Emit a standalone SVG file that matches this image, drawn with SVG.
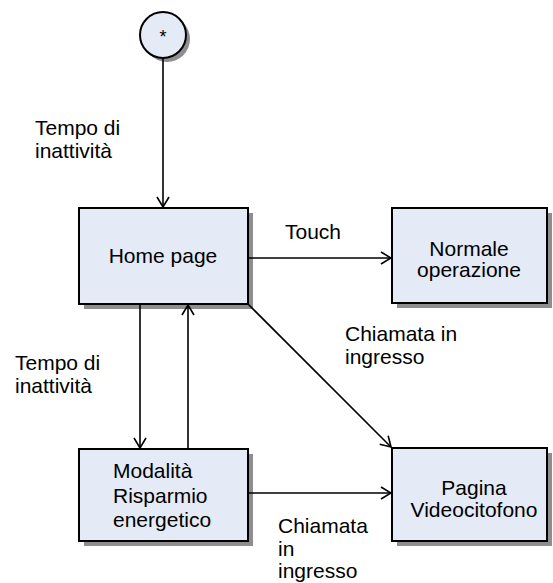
<svg xmlns="http://www.w3.org/2000/svg" width="553" height="583" viewBox="0 0 553 583">
<style>
.box{fill:#E4EAF6;stroke:#000;stroke-width:2}
.sh{fill:#8E8E8E}
.t{font-family:"Liberation Sans",Arial,sans-serif;font-size:21px;fill:#000}
.c{text-anchor:middle}
.ln{stroke:#000;stroke-width:1.6;fill:none}
</style>
<defs>
<marker id="ah" viewBox="0 0 12 14" refX="11" refY="7" markerWidth="12" markerHeight="14" markerUnits="userSpaceOnUse" orient="auto">
<path d="M1,1 L11,7 L1,13" fill="none" stroke="#000" stroke-width="1.6"/>
</marker>
</defs>
<rect width="553" height="583" fill="#fff"/>
<g id="start">
<circle cx="167" cy="39" r="23" class="sh"/>
<circle cx="163" cy="35" r="23" class="box"/>
<text x="163" y="43" class="t c" style="font-size:18px">*</text>
</g>
<g id="home">
<rect x="84" y="213" width="169" height="96" class="sh"/>
<rect x="79" y="208" width="169" height="96" class="box"/>
<text x="163" y="263" class="t c">Home page</text>
</g>
<g id="normale">
<rect x="397" y="213" width="155" height="95" class="sh"/>
<rect x="392" y="208" width="155" height="95" class="box"/>
<text x="469" y="256" class="t c">Normale</text>
<text x="469" y="277" class="t c">operazione</text>
</g>
<g id="modalita">
<rect x="84" y="454" width="169" height="92" class="sh"/>
<rect x="79" y="449" width="169" height="92" class="box"/>
<text x="113" y="478" class="t">Modalità</text>
<text x="113" y="503" class="t">Risparmio</text>
<text x="113" y="527" class="t">energetico</text>
</g>
<g id="pagina">
<rect x="397" y="453" width="155" height="93" class="sh"/>
<rect x="392" y="448" width="155" height="93" class="box"/>
<text x="474" y="495" class="t c">Pagina</text>
<text x="474" y="517" class="t c">Videocitofono</text>
</g>
<g id="connectors">
<line x1="163" y1="58" x2="163" y2="207" class="ln" marker-end="url(#ah)"/>
<line x1="248" y1="258" x2="391" y2="258" class="ln" marker-end="url(#ah)"/>
<line x1="248" y1="304" x2="391" y2="447" class="ln" marker-end="url(#ah)"/>
<line x1="140" y1="304" x2="140" y2="448" class="ln" marker-end="url(#ah)"/>
<line x1="188" y1="449" x2="188" y2="305" class="ln" marker-end="url(#ah)"/>
<line x1="248" y1="493" x2="391" y2="493" class="ln" marker-end="url(#ah)"/>
</g>
<g id="labels">
<text x="35" y="135" class="t">Tempo di</text>
<text x="35" y="158" class="t">inattività</text>
<text x="285" y="239" class="t">Touch</text>
<text x="345" y="341" class="t">Chiamata in</text>
<text x="345" y="364" class="t">ingresso</text>
<text x="15" y="370" class="t">Tempo di</text>
<text x="15" y="393" class="t">inattività</text>
<text x="278" y="533" class="t">Chiamata</text>
<text x="278" y="556" class="t">in</text>
<text x="278" y="578" class="t">ingresso</text>
</g>
</svg>
